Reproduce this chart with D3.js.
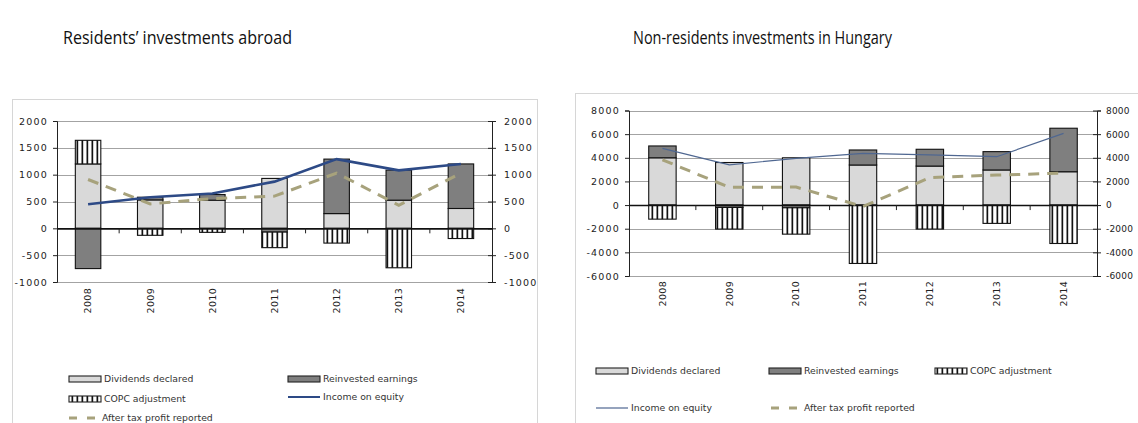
<!DOCTYPE html>
<html>
<head>
<meta charset="utf-8">
<script src="https://cdn.jsdelivr.net/npm/d3@7/dist/d3.min.js"></script>
<style>
  html, body { margin: 0; padding: 0; background: #fff; }
  svg { display: block; }
  .tick-label { font-family: "DejaVu Sans", sans-serif; font-size: 9.5px; fill: #222; letter-spacing: 1.2px; }
  .tick-label.tight { font-size: 9px; letter-spacing: 0.2px; }
  .legend-text { font-family: "DejaVu Sans", sans-serif; font-size: 9.3px; fill: #333; }
  .title { font-family: "Open Sans", sans-serif; font-size: 18px; fill: #111; }
</style>
</head>
<body>
<svg id="chart" width="1138" height="423"></svg>
<script>
// Years on the category axis
const years = ["2008", "2009", "2010", "2011", "2012", "2013", "2014"];

// Residents' investments abroad
const resDividends  = [1200, 530, 525, 930, 275, 525, 370];
const resReinvested = [-750, 50, 105, -70, 1015, 560, 830];
const resCopc       = [440, -130, -75, -290, -275, -735, -190];
const resIncome     = [450, 580, 650, 870, 1290, 1080, 1200];
const resAfterTax   = [910, 455, 555, 600, 1030, 430, 1030];
const resTicks      = [-1000, -500, 0, 500, 1000, 1500, 2000];

// Non-residents investments in Hungary
const nonDividends  = [4000, 3600, 4000, 3390, 3300, 2970, 2820];
const nonReinvested = [1000, -200, -230, 1270, 1420, 1550, 3680];
const nonCopc       = [-1190, -1830, -2230, -4940, -2030, -1550, -3250];
const nonIncome     = [4800, 3400, 3950, 4380, 4240, 4090, 6070];
const nonAfterTax   = [3830, 1500, 1520, -120, 2320, 2540, 2700];
const nonTicks      = [-6000, -4000, -2000, 0, 2000, 4000, 6000, 8000];

const svg = d3.select("#chart");

// plain hyphen-minus for negative tick values
const tickFmt = d => String(d);

// Vertical-stripe fill used for the COPC adjustment bars
const defs = svg.append("defs");
const pat = defs.append("pattern")
  .attr("id", "stripes")
  .attr("patternUnits", "userSpaceOnUse")
  .attr("width", 5).attr("height", 10);
pat.append("rect").attr("width", 5).attr("height", 10).attr("fill", "#fff");
pat.append("rect").attr("x", 1.5).attr("width", 1.7).attr("height", 10).attr("fill", "#111");

const seriesFill = { div: "#d9d9d9", rei: "#7f7f7f", copc: "url(#stripes)" };

function drawPanel(cfg) {
  const g = svg.append("g");

  // panel frame
  g.append("rect")
    .attr("x", cfg.frame[0]).attr("y", cfg.frame[1])
    .attr("width", cfg.frame[2]).attr("height", cfg.frame[3])
    .attr("fill", "none").attr("stroke", "#d6d6d6").attr("stroke-width", 1);

  // title
  g.append("text").attr("class", "title")
    .attr("x", cfg.titlePos[0]).attr("y", cfg.titlePos[1])
    .attr("textLength", cfg.titleLen).attr("lengthAdjust", "spacingAndGlyphs")
    .text(cfg.title);

  const x = d3.scaleBand().domain(years).range([cfg.x0, cfg.x1]).paddingInner(0.59).paddingOuter(0.295);
  const band = d3.scaleBand().domain(years).range([cfg.x0, cfg.x1]);
  const y = d3.scaleLinear().domain([cfg.ticks[0], cfg.ticks[cfg.ticks.length - 1]]).range([cfg.y0, cfg.y1]);

  // gridlines
  g.append("g").selectAll("line").data(cfg.ticks.filter(t => t !== 0)).join("line")
    .attr("x1", cfg.x0).attr("x2", cfg.x1)
    .attr("y1", d => Math.round(y(d)) + 0.5).attr("y2", d => Math.round(y(d)) + 0.5)
    .attr("stroke", "#a3a3a3").attr("stroke-width", 1);

  // left axis
  const yl = g.append("g").attr("transform", `translate(${cfg.x0},0)`)
    .call(d3.axisLeft(y).tickValues(cfg.ticks).tickSize(4).tickPadding(5).tickFormat(tickFmt));
  yl.select(".domain").attr("stroke", "#222");
  yl.selectAll(".tick line").attr("stroke", "#222");
  yl.selectAll("text").attr("class", "tick-label").attr("font-size", null).attr("font-family", null);

  // right axis (ticks cross the line)
  const yr = g.append("g").attr("transform", `translate(${cfg.x1},0)`)
    .call(d3.axisRight(y).tickValues(cfg.ticks).tickSize(4).tickPadding(cfg.rightPad).tickFormat(tickFmt));
  yr.select(".domain").attr("stroke", "#222");
  yr.selectAll(".tick line").attr("stroke", "#222").attr("x1", -4);
  yr.selectAll("text").attr("class", cfg.rightTight ? "tick-label tight" : "tick-label")
    .attr("font-size", null).attr("font-family", null);

  // stacked bars (positives above zero, negatives below)
  const rows = years.map((yr_, i) => ({ year: yr_, div: cfg.div[i], rei: cfg.rei[i], copc: cfg.copc[i] }));
  const stack = d3.stack().keys(["div", "rei", "copc"]).offset(d3.stackOffsetDiverging)(rows);
  g.append("g").selectAll("g").data(stack).join("g")
    .attr("fill", s => seriesFill[s.key])
    .selectAll("rect").data(s => s).join("rect")
      .attr("x", d => x(d.data.year))
      .attr("width", x.bandwidth())
      .attr("y", d => y(Math.max(d[0], d[1])))
      .attr("height", d => Math.abs(y(d[0]) - y(d[1])))
      .attr("stroke", "#111").attr("stroke-width", 1.1);

  // category axis at zero
  const xa = g.append("g").attr("transform", `translate(0,${y(0)})`)
    .call(d3.axisBottom(band).tickSize(0).tickFormat(""));
  xa.select(".domain").attr("stroke", "#111").attr("stroke-width", 1.6);
  g.append("g").selectAll("line").data(years.slice(1)).join("line")
    .attr("x1", d => band(d)).attr("x2", d => band(d))
    .attr("y1", y(0)).attr("y2", y(0) + 5)
    .attr("stroke", "#222").attr("stroke-width", 1);

  // rotated year labels below the plot
  g.append("g").selectAll("text").data(years).join("text")
    .attr("class", "tick-label")
    .attr("transform", d => `translate(${band(d) + band.bandwidth() / 2},${cfg.labelTop}) rotate(-90)`)
    .attr("text-anchor", "end").attr("dy", "0.35em")
    .style("letter-spacing", "0.3px")
    .text(d => d);

  // lines
  const cx = d => band(d) + band.bandwidth() / 2;
  const lineGen = d3.line().x((d, i) => cx(years[i])).y(d => y(d));

  g.append("path").datum(cfg.afterTax)
    .attr("d", lineGen).attr("fill", "none")
    .attr("stroke", "#a7a27c").attr("stroke-width", 3)
    .attr("stroke-dasharray", "11,8");
  g.append("path").datum(cfg.income)
    .attr("d", lineGen).attr("fill", "none")
    .attr("stroke", cfg.incomeColor).attr("stroke-width", cfg.incomeWidth);

  // legend
  const lg = g.append("g");
  cfg.legend.forEach(item => {
    const [lx, ly] = item.pos;
    if (item.type === "bar") {
      lg.append("rect").attr("x", lx).attr("y", ly - 3).attr("width", 32).attr("height", 6)
        .attr("fill", seriesFill[item.key]).attr("stroke", "#222").attr("stroke-width", 1.1);
    } else if (item.type === "line") {
      lg.append("line").attr("x1", lx).attr("x2", lx + 32).attr("y1", ly).attr("y2", ly)
        .attr("stroke", cfg.incomeColor).attr("stroke-width", cfg.incomeWidth === 1.2 ? 1.2 : 2);
    } else {
      lg.append("line").attr("x1", lx + 2).attr("x2", lx + 32).attr("y1", ly).attr("y2", ly)
        .attr("stroke", "#a7a27c").attr("stroke-width", 3).attr("stroke-dasharray", "8,10");
    }
    lg.append("text").attr("class", "legend-text")
      .attr("x", lx + 35).attr("y", ly).attr("dy", "0.35em").text(item.label);
  });
}

drawPanel({
  title: "Residents\u2019 investments abroad",
  titlePos: [63, 44], titleLen: 229,
  frame: [12.5, 99.5, 525, 340],
  x0: 57, x1: 492, y0: 282, y1: 121,
  ticks: resTicks,
  div: resDividends, rei: resReinvested, copc: resCopc,
  income: resIncome, afterTax: resAfterTax,
  incomeColor: "#2d4a86", incomeWidth: 2.6,
  labelTop: 288, rightPad: 8, rightTight: false,
  legend: [
    { type: "bar", key: "div", label: "Dividends declared", pos: [69, 379] },
    { type: "bar", key: "rei", label: "Reinvested earnings", pos: [288, 379] },
    { type: "bar", key: "copc", label: "COPC adjustment", pos: [69, 399] },
    { type: "line", label: "Income on equity", pos: [288, 397] },
    { type: "dash", label: "After tax profit reported", pos: [67, 418] }
  ]
});

drawPanel({
  title: "Non-residents investments in Hungary",
  titlePos: [633, 44], titleLen: 259,
  frame: [575.5, 93.5, 580, 346],
  x0: 629, x1: 1097, y0: 276, y1: 110.5,
  ticks: nonTicks,
  div: nonDividends, rei: nonReinvested, copc: nonCopc,
  income: nonIncome, afterTax: nonAfterTax,
  incomeColor: "#4f6791", incomeWidth: 1.2,
  labelTop: 281, rightPad: 5, rightTight: true,
  legend: [
    { type: "bar", key: "div", label: "Dividends declared", pos: [596, 371] },
    { type: "bar", key: "rei", label: "Reinvested earnings", pos: [769, 371] },
    { type: "bar", key: "copc", label: "COPC adjustment", pos: [935, 371] },
    { type: "line", label: "Income on equity", pos: [596, 408] },
    { type: "dash", label: "After tax profit reported", pos: [769, 408] }
  ]
});
</script>
</body>
</html>
